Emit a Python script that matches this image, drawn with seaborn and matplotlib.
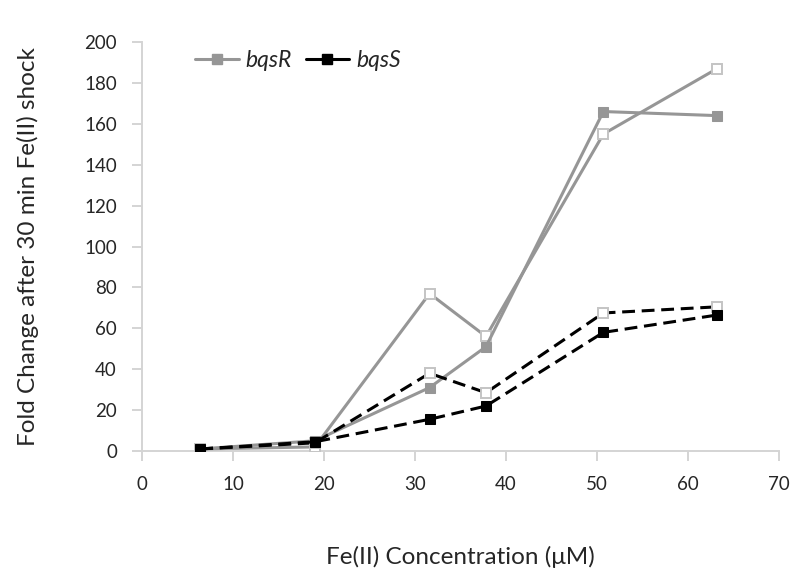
import numpy as np
import pandas as pd
import seaborn as sns
import matplotlib.pyplot as plt
from matplotlib.lines import Line2D

# ---- data ----
conc = [6.4, 19.0, 31.6, 37.8, 50.7, 63.2]
bqsR_filled = [1, 5, 31, 51, 166, 164]
bqsR_open = [1, 2, 77, 56, 155, 187]
bqsS_filled = [1, 4.5, 15.5, 22, 58, 66.5]
bqsS_open = [1, 4, 38, 28.5, 67.5, 70.5]
legend_names = ["bqsR", "bqsS"]
x_ticks = [0, 10, 20, 30, 40, 50, 60, 70]
y_ticks = [0, 20, 40, 60, 80, 100, 120, 140, 160, 180, 200]

sns.set_theme(style="white")
plt.rcParams["font.family"] = ["Lato", "DejaVu Sans"]

GRAY = "#969696"
BLACK = "#000000"
OPEN_EDGE = "#c4c4c4"
AXIS = "#d4d4d4"
TEXT = "#262626"

fig = plt.figure(figsize=(7.94, 5.71), dpi=100)
ax = fig.add_axes([142 / 794, 1 - 451 / 571, 637 / 794, 409 / 571])

lw = 2.2
ms = 7
dash = (0, (4.2, 2.2))

# bqsR (gray, solid)
sns.lineplot(x=conc, y=bqsR_open, ax=ax, color=GRAY, linewidth=lw,
             marker="s", markersize=ms, markerfacecolor="white",
             markeredgecolor=OPEN_EDGE, markeredgewidth=1.4, zorder=3)
sns.lineplot(x=conc, y=bqsR_filled, ax=ax, color=GRAY, linewidth=lw,
             marker="s", markersize=ms, markerfacecolor=GRAY,
             markeredgecolor=GRAY, zorder=3)
# bqsS (black, dashed)
sns.lineplot(x=conc, y=bqsS_open, ax=ax, color=BLACK, linewidth=lw,
             linestyle=dash, marker="s", markersize=ms,
             markerfacecolor="white", markeredgecolor=OPEN_EDGE,
             markeredgewidth=1.4, zorder=4)
sns.lineplot(x=conc, y=bqsS_filled, ax=ax, color=BLACK, linewidth=lw,
             linestyle=dash, marker="s", markersize=ms,
             markerfacecolor=BLACK, markeredgecolor=BLACK, zorder=4)

ax.set_xlim(0, 70)
ax.set_ylim(0, 200)
ax.set_xticks(x_ticks)
ax.set_yticks(y_ticks)
ax.set_xticklabels([str(t) for t in x_ticks])
ax.set_yticklabels([str(t) for t in y_ticks])

for s in ["top", "right"]:
    ax.spines[s].set_visible(False)
for s in ["left", "bottom"]:
    ax.spines[s].set_color(AXIS)
    ax.spines[s].set_linewidth(1.4)

ax.tick_params(axis="both", which="major", bottom=True, left=True,
               direction="out", length=7, width=1.4, color=AXIS,
               labelsize=13.5, labelcolor=TEXT, pad=11)

ax.set_xlabel("Fe(II) Concentration (\u03bcM)", fontsize=17.5, color=TEXT,
              va="center")
ax.xaxis.set_label_coords(0.5, (451 - 557) / 409)
ax.set_ylabel("Fold Change after 30 min Fe(II) shock", fontsize=17.5,
              color=TEXT, va="center")
ax.yaxis.set_label_coords((28 - 142) / 637, 0.5)

handles = [
    Line2D([], [], color=GRAY, linewidth=lw, marker="s", markersize=ms,
           markerfacecolor=GRAY, markeredgecolor=GRAY),
    Line2D([], [], color=BLACK, linewidth=lw, marker="s", markersize=ms,
           markerfacecolor=BLACK, markeredgecolor=BLACK),
]
leg = ax.legend(handles, legend_names, loc="upper left",
                bbox_to_anchor=((195 - 142) / 637, (451 - 50) / 409),
                ncol=2, frameon=False, handlelength=1.9, handletextpad=0.3,
                columnspacing=0.6, borderaxespad=0, borderpad=0,
                prop={"style": "italic", "size": 16.5})
for t in leg.get_texts():
    t.set_color(TEXT)

fig.savefig("out.png", dpi=100)
